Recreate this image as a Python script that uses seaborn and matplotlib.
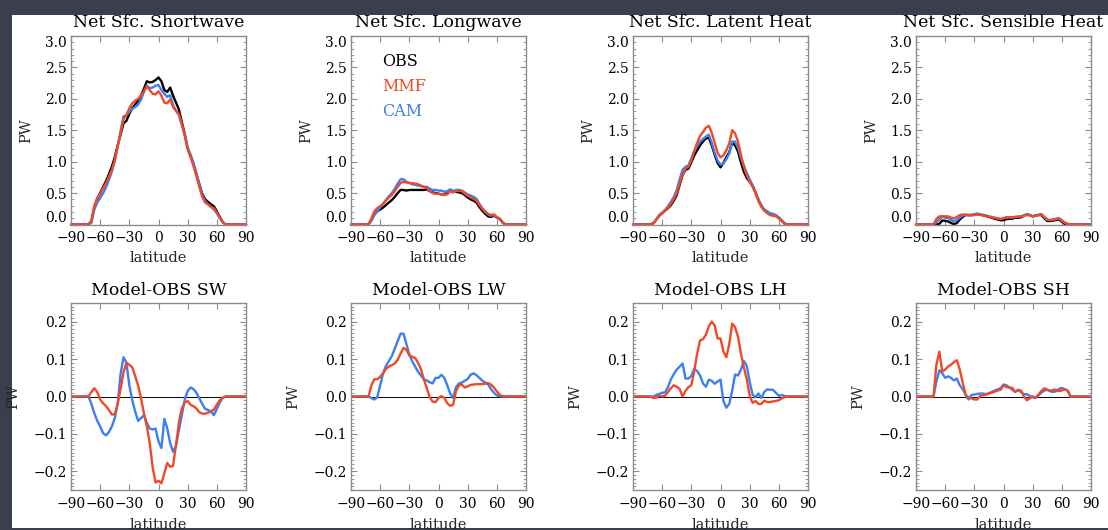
import matplotlib
matplotlib.use("Agg")
import matplotlib.pyplot as plt
from matplotlib.patches import Rectangle
from matplotlib.ticker import MultipleLocator
import seaborn as sns

# latitude grid (deg)
lat = [-90, -72, -69, -66, -63, -60, -57, -54,
       -51, -48, -45, -42, -39, -36, -33, -30,
       -27, -24, -21, -18, -15, -12, -9, -6,
       -3, 0, 3, 6, 9, 12, 15, 18,
       21, 24, 27, 30, 33, 36, 39, 42,
       45, 48, 51, 54, 57, 60, 63, 66, 69, 90]

# ---- net surface fluxes (PW) ----
sw_obs = [0, 0, 0.05, 0.27, 0.41, 0.50, 0.60, 0.69,
          0.80, 0.92, 1.07, 1.26, 1.43, 1.61, 1.65, 1.76,
          1.85, 1.91, 1.97, 2.05, 2.16, 2.28, 2.26, 2.27,
          2.30, 2.34, 2.28, 2.14, 2.11, 2.18, 2.05, 1.94,
          1.83, 1.63, 1.44, 1.21, 1.09, 0.96, 0.80, 0.64,
          0.49, 0.40, 0.36, 0.32, 0.29, 0.21, 0.12, 0.04, 0, 0]
sw_mmf = [0, 0, 0.06, 0.30, 0.42, 0.49, 0.58, 0.66,
          0.76, 0.87, 1.02, 1.24, 1.45, 1.68, 1.74, 1.85,
          1.93, 1.97, 2.00, 2.05, 2.12, 2.20, 2.14, 2.08,
          2.07, 2.12, 2.05, 1.94, 1.93, 1.99, 1.87, 1.81,
          1.76, 1.60, 1.42, 1.20, 1.07, 0.93, 0.77, 0.60,
          0.44, 0.35, 0.32, 0.28, 0.26, 0.19, 0.11, 0.04, 0, 0]
sw_cam = [0, 0, 0.03, 0.24, 0.35, 0.42, 0.50, 0.59,
          0.71, 0.84, 1.01, 1.24, 1.49, 1.72, 1.74, 1.79,
          1.84, 1.87, 1.91, 1.99, 2.11, 2.21, 2.17, 2.18,
          2.21, 2.22, 2.14, 2.08, 2.03, 2.06, 1.90, 1.81,
          1.74, 1.58, 1.43, 1.22, 1.11, 0.98, 0.81, 0.64,
          0.47, 0.37, 0.32, 0.28, 0.24, 0.18, 0.10, 0.04, 0, 0]

lw_obs = [0, 0, 0.07, 0.16, 0.21, 0.24, 0.27, 0.31,
          0.35, 0.39, 0.44, 0.50, 0.55, 0.55, 0.54, 0.55,
          0.55, 0.55, 0.55, 0.55, 0.55, 0.56, 0.53, 0.51,
          0.50, 0.49, 0.48, 0.47, 0.50, 0.55, 0.53, 0.52,
          0.51, 0.50, 0.47, 0.43, 0.40, 0.38, 0.35, 0.28,
          0.22, 0.17, 0.13, 0.12, 0.14, 0.11, 0.09, 0.03, 0, 0]
lw_mmf = [0, 0, 0.10, 0.21, 0.26, 0.29, 0.33, 0.38,
          0.43, 0.47, 0.53, 0.60, 0.66, 0.68, 0.67, 0.66,
          0.66, 0.65, 0.64, 0.62, 0.60, 0.58, 0.53, 0.50,
          0.49, 0.49, 0.48, 0.47, 0.48, 0.53, 0.51, 0.53,
          0.54, 0.53, 0.49, 0.46, 0.43, 0.41, 0.38, 0.31,
          0.25, 0.20, 0.17, 0.15, 0.16, 0.12, 0.09, 0.03, 0, 0]
lw_cam = [0, 0, 0.07, 0.15, 0.21, 0.27, 0.33, 0.39,
          0.45, 0.50, 0.57, 0.65, 0.72, 0.72, 0.68, 0.66,
          0.64, 0.63, 0.62, 0.61, 0.60, 0.60, 0.57, 0.55,
          0.55, 0.54, 0.54, 0.52, 0.53, 0.56, 0.53, 0.55,
          0.55, 0.54, 0.51, 0.48, 0.46, 0.44, 0.41, 0.33,
          0.26, 0.21, 0.16, 0.14, 0.15, 0.11, 0.09, 0.03, 0, 0]

lh_obs = [0, 0, 0.02, 0.08, 0.14, 0.18, 0.22, 0.26,
          0.31, 0.38, 0.47, 0.63, 0.79, 0.87, 0.89, 0.99,
          1.10, 1.18, 1.26, 1.32, 1.37, 1.38, 1.26, 1.11,
          0.98, 0.91, 0.98, 1.07, 1.15, 1.30, 1.26, 1.16,
          0.99, 0.84, 0.74, 0.68, 0.62, 0.51, 0.39, 0.30,
          0.23, 0.19, 0.16, 0.15, 0.14, 0.11, 0.06, 0.015, 0, 0]
lh_mmf = [0, 0, 0.02, 0.08, 0.14, 0.18, 0.22, 0.27,
          0.33, 0.41, 0.50, 0.65, 0.79, 0.89, 0.92, 1.02,
          1.17, 1.30, 1.41, 1.47, 1.54, 1.57, 1.46, 1.30,
          1.14, 1.07, 1.10, 1.18, 1.29, 1.50, 1.45, 1.32,
          1.11, 0.92, 0.79, 0.68, 0.60, 0.50, 0.37, 0.28,
          0.22, 0.18, 0.15, 0.14, 0.13, 0.10, 0.055, 0.013, 0, 0]
lh_cam = [0, 0, 0.02, 0.08, 0.15, 0.19, 0.23, 0.29,
          0.36, 0.44, 0.55, 0.72, 0.87, 0.92, 0.94, 1.05,
          1.17, 1.25, 1.32, 1.36, 1.40, 1.43, 1.30, 1.14,
          1.02, 0.95, 0.97, 1.04, 1.13, 1.32, 1.32, 1.22,
          1.06, 0.94, 0.82, 0.72, 0.62, 0.51, 0.40, 0.30,
          0.24, 0.21, 0.18, 0.17, 0.15, 0.11, 0.064, 0.016, 0, 0]

sh_obs = [0, 0, 0.0, 0.01, 0.064, 0.058, 0.05, 0.025,
          0.003, 0.023, 0.078, 0.122, 0.15, 0.153, 0.15, 0.158,
          0.168, 0.153, 0.147, 0.135, 0.122, 0.105, 0.092, 0.079,
          0.067, 0.07, 0.085, 0.091, 0.092, 0.108, 0.107, 0.114,
          0.14, 0.16, 0.15, 0.13, 0.143, 0.15, 0.15, 0.098,
          0.057, 0.055, 0.062, 0.072, 0.081, 0.044, 0.01, -0.005, 0, 0]
sh_mmf = [0, 0, 0.09, 0.13, 0.13, 0.13, 0.13, 0.11,
          0.095, 0.12, 0.15, 0.16, 0.155, 0.15, 0.145, 0.15,
          0.16, 0.155, 0.15, 0.14, 0.13, 0.115, 0.105, 0.095,
          0.085, 0.10, 0.11, 0.115, 0.115, 0.12, 0.125, 0.13,
          0.14, 0.15, 0.145, 0.13, 0.14, 0.155, 0.165, 0.12,
          0.075, 0.07, 0.08, 0.09, 0.095, 0.06, 0.03, 0.01, 0, 0]
sh_cam = [0, 0, 0.04, 0.08, 0.126, 0.108, 0.104, 0.075,
          0.046, 0.071, 0.108, 0.142, 0.154, 0.145, 0.154, 0.163,
          0.175, 0.161, 0.155, 0.141, 0.131, 0.117, 0.108, 0.098,
          0.089, 0.102, 0.115, 0.115, 0.11, 0.121, 0.124, 0.126,
          0.146, 0.166, 0.152, 0.128, 0.139, 0.153, 0.16, 0.114,
          0.075, 0.069, 0.074, 0.086, 0.101, 0.067, 0.029, 0.011, 0, 0]

# ---- model minus obs (PW) ----
dsw_mmf = [0, 0, 0.012, 0.022, 0.012, -0.008, -0.018, -0.026,
           -0.036, -0.048, -0.048, -0.02, 0.02, 0.065, 0.09, 0.085,
           0.078, 0.055, 0.03, -0.005, -0.045, -0.08, -0.125, -0.19,
           -0.23, -0.225, -0.232, -0.205, -0.178, -0.188, -0.185, -0.13,
           -0.07, -0.032, -0.016, -0.012, -0.022, -0.026, -0.032, -0.042,
           -0.046, -0.046, -0.043, -0.04, -0.035, -0.022, -0.01, -0.003, 0, 0]
dsw_cam = [0, 0, -0.02, -0.045, -0.065, -0.08, -0.098, -0.104,
           -0.095, -0.08, -0.058, -0.02, 0.06, 0.105, 0.09, 0.03,
           -0.01, -0.04, -0.065, -0.058, -0.05, -0.07, -0.086, -0.088,
           -0.086, -0.12, -0.138, -0.06, -0.085, -0.125, -0.148, -0.132,
           -0.09, -0.05, -0.008, 0.015, 0.024, 0.02, 0.01, -0.005,
           -0.02, -0.033, -0.036, -0.04, -0.05, -0.033, -0.016, -0.004, 0, 0]

dlw_mmf = [0, 0, 0.03, 0.046, 0.046, 0.053, 0.062, 0.074,
           0.08, 0.084, 0.088, 0.098, 0.115, 0.13, 0.125, 0.11,
           0.106, 0.103, 0.09, 0.073, 0.045, 0.022, -0.002, -0.014,
           -0.015, -0.004, 0.001, -0.004, -0.018, -0.025, -0.022, 0.014,
           0.03, 0.032, 0.024, 0.027, 0.031, 0.032, 0.033, 0.033,
           0.033, 0.034, 0.036, 0.032, 0.024, 0.014, 0.004, 0.001, 0, 0]
dlw_cam = [0, 0, -0.004, -0.008, -0.002, 0.03, 0.062, 0.082,
           0.095, 0.108, 0.128, 0.148, 0.168, 0.168, 0.14, 0.112,
           0.094, 0.08, 0.066, 0.056, 0.046, 0.043, 0.038, 0.035,
           0.05, 0.05, 0.058, 0.05, 0.03, 0.008, -0.004, 0.025,
           0.035, 0.037, 0.042, 0.047, 0.058, 0.062, 0.057, 0.05,
           0.042, 0.038, 0.032, 0.02, 0.01, 0.003, 0.001, 0, 0, 0]

dlh_mmf = [0, 0, -0.004, -0.003, 0.002, 0.0, 0.002, 0.012,
           0.022, 0.03, 0.026, 0.02, 0.0, 0.015, 0.025, 0.03,
           0.068, 0.115, 0.15, 0.153, 0.165, 0.188, 0.2, 0.19,
           0.155, 0.155, 0.12, 0.105, 0.14, 0.195, 0.185, 0.16,
           0.115, 0.078, 0.046, 0.003, -0.017, -0.012, -0.02, -0.02,
           -0.011, -0.015, -0.015, -0.013, -0.012, -0.01, -0.005, -0.002, 0, 0]
dlh_cam = [0, 0, 0.0, 0.004, 0.007, 0.01, 0.011, 0.025,
           0.046, 0.06, 0.072, 0.08, 0.088, 0.048, 0.048, 0.055,
           0.074, 0.068, 0.056, 0.035, 0.026, 0.045, 0.042, 0.034,
           0.04, 0.045, -0.012, -0.03, -0.02, 0.015, 0.059, 0.056,
           0.072, 0.095, 0.082, 0.04, 0.005, -0.002, 0.008, -0.004,
           0.012, 0.019, 0.018, 0.018, 0.01, 0.002, 0.004, 0.001, 0, 0]

dsh_mmf = [0, 0, 0.085, 0.12, 0.066, 0.072, 0.08, 0.085,
           0.092, 0.097, 0.072, 0.038, 0.005, -0.003, -0.005, -0.008,
           -0.008, 0.002, 0.003, 0.005, 0.008, 0.01, 0.013, 0.016,
           0.018, 0.03, 0.025, 0.024, 0.023, 0.012, 0.018, 0.016,
           0.0, -0.01, -0.005, 0.0, -0.003, 0.005, 0.015, 0.022,
           0.018, 0.015, 0.018, 0.018, 0.014, 0.016, 0.02, 0.015, 0, 0]
dsh_cam = [0, 0, 0.04, 0.07, 0.062, 0.05, 0.054, 0.05,
           0.043, 0.048, 0.03, 0.02, 0.004, -0.008, 0.004, 0.005,
           0.007, 0.008, 0.008, 0.006, 0.009, 0.012, 0.016, 0.019,
           0.022, 0.032, 0.03, 0.024, 0.018, 0.013, 0.017, 0.012,
           0.006, 0.006, 0.002, -0.002, -0.004, 0.003, 0.01, 0.016,
           0.018, 0.014, 0.012, 0.014, 0.02, 0.023, 0.019, 0.016, 0, 0]

top_titles = ["Net Sfc. Shortwave", "Net Sfc. Longwave",
              "Net Sfc. Latent Heat", "Net Sfc. Sensible Heat"]
bottom_titles = ["Model-OBS SW", "Model-OBS LW", "Model-OBS LH", "Model-OBS SH"]
legend_names = ["OBS", "MMF", "CAM"]

RED = "#ee4a2a"
BLUE = "#3d7ef0"
DARK = "#3b3e4c"
FRAME = "#8c8c8c"
W, H = 1108, 530

sns.set_theme(style="ticks")
plt.rcParams["font.family"] = ["DejaVu Serif"]
plt.rcParams["text.color"] = "black"


def style_axes(ax):
    ax.set_xlim(-90, 90)
    ax.set_xticks(range(-90, 91, 30))
    for s in ax.spines.values():
        s.set_color(FRAME)
        s.set_linewidth(1.0)
    ax.tick_params(which="both", direction="in", top=True, right=True,
                   color=FRAME, labelcolor="black", labelsize=10)
    ax.tick_params(which="major", length=4, width=0.8)
    ax.tick_params(which="minor", length=2, width=0.6)
    ax.tick_params(axis="x", pad=5)
    ax.tick_params(axis="y", pad=3)
    ax.set_facecolor("white")


def line(ax, y, color, clip=True):
    sns.lineplot(x=lat, y=y, ax=ax, color=color, linewidth=1.7, clip_on=clip)


fig = plt.figure(figsize=(W / 100, H / 100), dpi=100, facecolor=DARK)
fig.add_artist(Rectangle((12 / W, 2 / H), (W - 12) / W, (528 - 15) / H,
                         transform=fig.transFigure, facecolor="white",
                         edgecolor="none", zorder=-5))

lefts = [71, 351, 633, 916]
aw = 175

top_data = [(sw_obs, sw_mmf, sw_cam), (lw_obs, lw_mmf, lw_cam),
            (lh_obs, lh_mmf, lh_cam), (sh_obs, sh_mmf, sh_cam)]
bot_data = [(dsw_mmf, dsw_cam), (dlw_mmf, dlw_cam),
            (dlh_mmf, dlh_cam), (dsh_mmf, dsh_cam)]

for i in range(4):
    # top row
    ax = fig.add_axes([lefts[i] / W, 1 - 224.5 / H, aw / W, 188.5 / H])
    obs, mmf, cam = top_data[i]
    line(ax, obs, "black", clip=False)
    line(ax, cam, BLUE, clip=False)
    line(ax, mmf, RED, clip=False)
    style_axes(ax)
    ax.set_ylim(0, 3.0)
    ax.set_yticks([0, 0.5, 1.0, 1.5, 2.0, 2.5, 3.0])
    ax.yaxis.set_minor_locator(MultipleLocator(0.1))
    ax.set_yticklabels([f"{v:.1f}" for v in ax.get_yticks()])
    labs = ax.get_yticklabels()
    labs[0].set_va("bottom")
    labs[-1].set_va("top")
    ax.set_title(top_titles[i], fontsize=12.5, pad=6.5)
    ax.set_xlabel("latitude", fontsize=10.5)
    ax.set_ylabel("PW", fontsize=10.5)
    ax.xaxis.set_label_coords(0.5, -0.142)
    ax.xaxis.label.set_va("top")
    ax.yaxis.set_label_coords(-0.218, 0.5)
    if i == 1:
        for name, c, yy in zip(legend_names, ["black", RED, BLUE], [2.59, 2.2, 1.8]):
            ax.text(-57.5, yy, name, color=c, fontsize=11.5, va="center")

    # bottom row
    ax = fig.add_axes([lefts[i] / W, 1 - 490 / H, aw / W, 187 / H])
    ax.axhline(0, color="black", linewidth=0.7, zorder=1)
    d_mmf, d_cam = bot_data[i]
    line(ax, d_cam, BLUE)
    line(ax, d_mmf, RED)
    style_axes(ax)
    ax.set_ylim(-0.25, 0.25)
    ax.set_yticks([-0.2, -0.1, 0.0, 0.1, 0.2])
    ax.yaxis.set_minor_locator(MultipleLocator(0.01))
    ax.set_yticklabels([f"{v:.1f}".replace("-", "\u2212") for v in ax.get_yticks()])
    ax.set_title(bottom_titles[i], fontsize=12.5, pad=6)
    ax.set_xlabel("latitude", fontsize=10.5)
    ax.set_ylabel("PW", fontsize=10.5)
    ax.xaxis.set_label_coords(0.5, -0.15)
    ax.xaxis.label.set_va("top")
    ax.yaxis.set_label_coords(-0.29, 0.5)

fig.savefig("out.png", dpi=100, facecolor=fig.get_facecolor())
